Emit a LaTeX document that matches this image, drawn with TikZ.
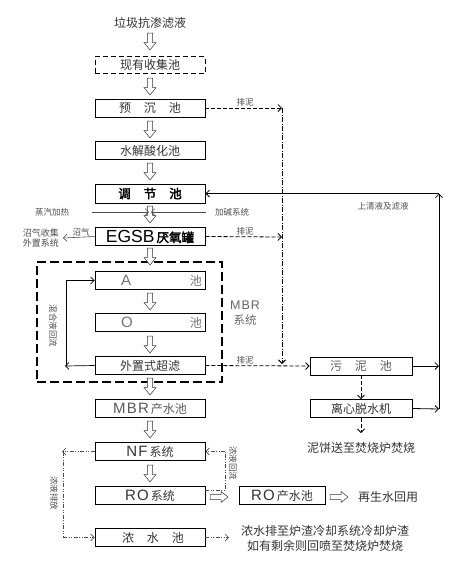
\documentclass[tikz,border=0pt]{standalone}
\usepackage{fontspec}
\setmainfont{Liberation Sans}
\newfontfamily\cjk{Noto Sans CJK SC}
\newfontfamily\cjkb[FakeBold=2.5]{Noto Sans CJK SC}
\newfontfamily\lat[LetterSpace=8]{Liberation Sans}
\usetikzlibrary{arrows.meta,calc}
\begin{document}
\begin{tikzpicture}[x=1pt,y=-1pt,
  every node/.style={inner sep=0pt,text=black!80},
  box/.style={draw=black,line width=0.8pt,minimum width=110pt,minimum height=18pt,font=\cjk\fontsize{12}{14}\selectfont},
  sbox/.style={box,minimum width=102pt},
  lbl/.style={font=\cjk\fontsize{8.5}{10}\selectfont,text=black!70},
  big/.style={font=\cjk\fontsize{12}{15}\selectfont},
  tip/.style={-{Straight Barb[length=3.5pt,width=7pt]}},
  ln/.style={line width=0.8pt},
  dsh/.style={line width=0.8pt,dash pattern=on 4pt off 2pt},
  dd/.style={line width=0.7pt,black!70,dash pattern=on 4pt off 1.5pt on 1pt off 1.5pt on 1pt off 1.5pt},
  dv/.style={line width=1pt,dash pattern=on 5pt off 1.5pt on 1pt off 1.5pt},
  harrow/.pic={\draw[line width=0.5pt,draw=black!80,fill=white] (-2.6,0)--(-2.6,9.5)--(-6,9.5)--(0,17)--(6,9.5)--(2.6,9.5)--(2.6,0)--cycle;},
  hright/.pic={\draw[line width=0.5pt,draw=black!80,fill=white] (0,-2.5)--(11,-2.5)--(11,-5.5)--(18,0)--(11,5.5)--(11,2.5)--(0,2.5)--cycle;}
]
\useasboundingbox (0,0) rectangle (460,566);

% title
\node[big] (title) at (150,23) {垃圾抗渗滤液};
\pic at (150,33) {harrow};
\node[box,dash pattern=on 5pt off 3pt,minimum height=17pt] (coll) at (150,65) {现有收集池};
\pic at (150,78) {harrow};
\node[box] (pre) at (150,108) {预\hspace{13pt}沉\hspace{13pt}池};
\pic at (150,121) {harrow};
\node[box] (hyd) at (150,150.5) {水解酸化池};
\pic at (150,163) {harrow};
\node[box,line width=1pt,minimum height=19pt,font=\cjkb\fontsize{12.5}{14}\selectfont,text=black] (adj) at (150,193.5) {调\hspace{13pt}节\hspace{13pt}池};
\pic at (150,206) {harrow};
\node[box,line width=1pt,text=black] (egsb) at (150,236.5) {{\fontspec{Liberation Sans}\fontsize{17.5}{18}\selectfont EGSB}\,{\cjkb\fontsize{12.5}{14}\selectfont 厌氧罐}};

% MBR dashed frame
\node[draw,line width=2pt,dash pattern=on 9pt off 4pt,minimum width=185pt,minimum height=120pt] (mbr) at (129.5,322) {};
\pic at (150,248) {harrow};
\node[box,text=black!55] (A) at (150,280.5) {\makebox[104pt]{\hspace{23pt}{\lat\fontsize{15}{15}\selectfont A}\hfill 池}};
\pic at (150,293) {harrow};
\node[box,text=black!55] (O) at (150,322.5) {\makebox[104pt]{\hspace{23pt}{\lat\fontsize{15}{15}\selectfont O}\hfill 池}};
\pic at (150,336) {harrow};
\node[box] (uf) at (150,365.5) {外置式超滤};
\node[font=\cjk\fontsize{11.5}{15}\selectfont,text=black!60,align=center] (mbrt) at (245,313) {{\lat\fontsize{12.5}{14}\selectfont MBR}\\系统};

\pic at (150,378) {harrow};
\node[box,text=black!65] (mbrw) at (150,408.5) {{\lat\fontsize{15}{15}\selectfont MBR}\,产水池};
\pic at (150,421) {harrow};
\node[box] (nf) at (150,451.5) {{\lat\fontsize{15}{15}\selectfont NF}\,系统};
\pic at (150,465) {harrow};
\node[box] (ro) at (150,495.5) {{\lat\fontsize{15}{15}\selectfont RO}\,系统};
\node[box] (cw) at (150,537.5) {\hspace{6pt}浓\hspace{13pt}水\hspace{13pt}池};

% right column
\node[sbox,text=black!65] (slg) at (361,366) {污\hspace{13pt}泥\hspace{13pt}池};
\node[sbox] (dew) at (361,408.5) {离心脱水机};
\node[big] (cake) at (361,448) {泥饼送至焚烧炉焚烧};
\node[box,minimum width=86pt] (rop) at (282,495.5) {{\lat\fontsize{15}{15}\selectfont RO}\,产水池};
\pic at (210,497) {hright};
\pic at (330,497) {hright};
\node[big] (reuse) at (388,497) {再生水回用};
\node[big,align=center] (cwt) at (325,538) {浓水排至炉渣冷却系统冷却炉渣\\如有剩余则回喷至焚烧炉焚烧};

% sludge lines
\coordinate (j1) at (282,108);
\coordinate (j2) at (282,237);
\coordinate (j3) at (282,364);
\draw[dsh,tip] (pre.east) -- (j1);
\draw[dsh,tip] (egsb.east) -- (j2);
\draw[dv,tip] (j1) -- (j3);
\draw[dsh,tip] (uf.east) -- (slg.west);
\node[lbl] (p1) at (245,102) {排泥};
\node[lbl] (p2) at (245,231) {排泥};
\node[lbl] (p3) at (245,360) {排泥};

% supernatant return
\coordinate (r1) at (439,366);
\coordinate (r2) at (439,409);
\coordinate (r3) at (439,193.5);
\draw[ln,tip] (slg.east) -- (r1);
\draw[ln,tip] (dew.east) -- (r2);
\draw[ln,tip] (r2) -- (r3);
\draw[ln,tip] (r3) -- (adj.east);
\node[lbl] (sup) at (383,206) {上清液及滤液};
\draw[dsh,tip] (slg.south) -- (dew.north);
\coordinate (ck) at (361,433);
\draw[dsh,tip] (dew.south) -- (ck);

% steam / alkali
\node[lbl] (steam) at (52,212) {蒸汽加热};
\node[lbl] (alk) at (232,212) {加碱系统};
\coordinate (s1) at (92,212);
\coordinate (s2) at (149,212);
\coordinate (a1) at (206,212);
\coordinate (a2) at (151,212);
\draw[line width=0.6pt,black!70,tip] (s1) -- (s2);
\draw[line width=0.6pt,black!70,tip] (a1) -- (a2);

% biogas
\coordinate (g1) at (63,238);
\draw[line width=0.6pt,black!70,tip] (egsb.west) -- (g1);
\node[lbl] (gas) at (81,232) {沼气};
\node[lbl,font=\cjk\fontsize{9}{10.5}\selectfont,align=center] (gsys) at (41,238) {沼气收集\\外置系统};

% mixed liquor return
\coordinate (l1) at (65,366);
\coordinate (l2) at (66,280.5);
\draw[line width=0.7pt,tip] (uf.west) -- (l1);
\draw[line width=0.7pt] (66,366) -- (l2);
\draw[line width=0.7pt,tip] (l2) -- (A.west);
\node[lbl,rotate=-90] (mix) at (53,326) {混合液回流};

% concentrate loops
\coordinate (n1) at (62,451.5);
\coordinate (n2) at (63,537.5);
\draw[dd,tip] (nf.west) -- (n1);
\draw[dd] (63,451.5) -- (n2);
\draw[dd,tip] (n2) -- (cw.west);
\node[lbl,rotate=-90] (dis) at (54,493) {浓液排放};

\coordinate (m0) at (205,490);
\coordinate (m1) at (225,490);
\coordinate (m2) at (225,451.5);
\draw[dd] (m0) -- (m1) -- (m2);
\draw[dd,tip] (m2) -- (nf.east);
\node[lbl,rotate=-90] (ret) at (233,463) {浓液回流};

\coordinate (c1) at (229,537.5);
\draw[dd,tip] (cw.east) -- (c1);
\end{tikzpicture}
\end{document}
